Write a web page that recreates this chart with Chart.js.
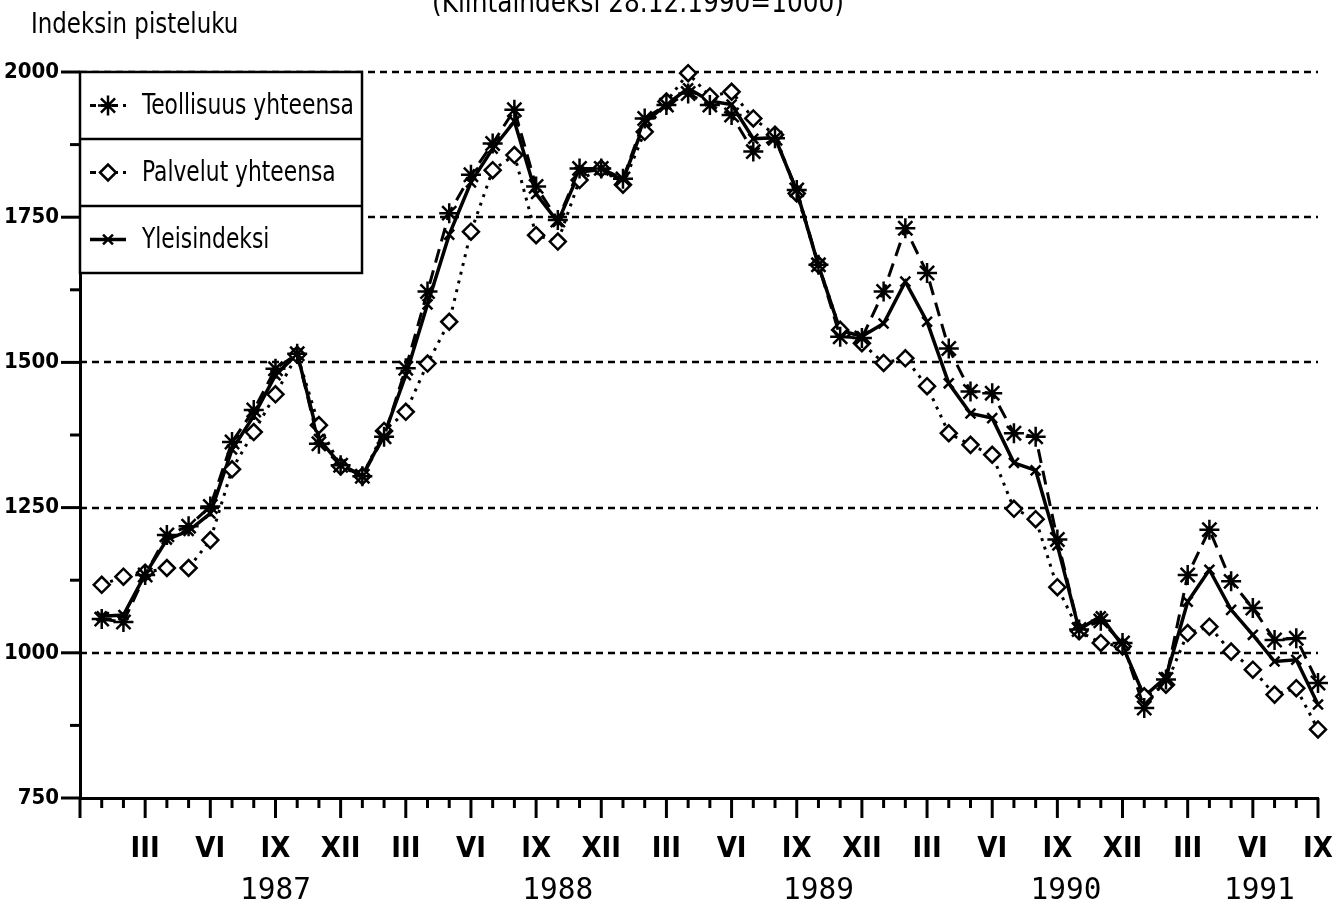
<!DOCTYPE html>
<html>
<head>
<meta charset="utf-8">
<script src="https://cdn.jsdelivr.net/npm/chart.js@4.4.1/dist/chart.umd.min.js"></script>
<style>
  html, body { margin: 0; padding: 0; background: #fff; }
  #wrap { width: 1343px; height: 906px; position: relative; }
</style>
</head>
<body>
<div id="wrap"><canvas id="c" width="1343" height="906"></canvas></div>
<script>
// ---- data (monthly, Jan 1987 .. Sep 1991) ----
const seriesNames = ['Teollisuus yhteensa', 'Palvelut yhteensa', 'Yleisindeksi'];
const teollisuus = [
  1058, 1053, 1134, 1203, 1218, 1252, 1363, 1418, 1489, 1515, 1360, 1323,
  1304, 1372, 1490, 1622, 1757, 1823, 1877, 1935, 1803, 1745, 1834, 1834,
  1816, 1920, 1943, 1963, 1943, 1926, 1863, 1886, 1797, 1668, 1544, 1542,
  1622, 1731, 1654, 1524, 1450, 1447, 1378, 1372, 1195, 1040, 1055, 1017,
  905, 954, 1134, 1212, 1123, 1077, 1022, 1025, 948
];
const palvelut = [
  1117, 1131, 1138, 1146, 1146, 1194, 1316, 1380, 1445, 1513, 1392, 1321,
  1304, 1382, 1415, 1498, 1570, 1725, 1831, 1857, 1719, 1708, 1814, 1834,
  1806, 1897, 1949, 1998, 1958, 1966, 1920, 1892, 1791, 1668, 1556, 1533,
  1499, 1507, 1459, 1378, 1358, 1341, 1248, 1230, 1113, 1037, 1017, 1011,
  925, 945, 1034, 1045, 1002, 971, 928, 939, 868
];
const yleisindeksi = [
  1063, 1065, 1135, 1195, 1210, 1240, 1350, 1408, 1478, 1515, 1368, 1324,
  1305, 1375, 1478, 1600, 1720, 1810, 1868, 1915, 1790, 1742, 1828, 1832,
  1814, 1913, 1944, 1972, 1950, 1944, 1885, 1887, 1795, 1667, 1555, 1545,
  1567, 1639, 1570, 1464, 1412, 1404, 1327, 1314, 1185, 1040, 1063, 1012,
  925, 958, 1088, 1143, 1074, 1031, 985, 988, 911
];
const quarterNumerals = ['III', 'VI', 'IX', 'XII'];
const years = ['1987', '1988', '1989', '1990', '1991'];
const yearLabelMonth = [9, 22, 34, 45.4, 54.3];
const gridValues = [1000, 1250, 1500, 1750, 2000];
const yTickLabels = [750, 1000, 1250, 1500, 1750, 2000];
const yAxisTitle = 'Indeksin pisteluku';
const chartTitle = '(Kiintaindeksi 28.12.1990=1000)';

const NARROW = "'DejaVu Sans Condensed', 'Liberation Sans Narrow', sans-serif";
const MONO = "'DejaVu Sans Mono', 'Liberation Mono', monospace";

const toPoints = arr => arr.map((v, i) => ({ x: i + 1, y: v }));

function scaledText(ctx, text, x, y, sx) {
  ctx.save();
  ctx.translate(x, y);
  ctx.scale(sx, 1);
  ctx.fillText(text, 0, 0);
  ctx.restore();
}

const decor = {
  id: 'decor',
  beforeDatasetsDraw(chart) {
    const { ctx, chartArea: a, scales: { y } } = chart;
    ctx.save();
    ctx.strokeStyle = '#000';
    ctx.lineWidth = 2.5;
    ctx.setLineDash([7, 5]);
    gridValues.forEach(v => {
      const py = Math.round(y.getPixelForValue(v));
      ctx.beginPath();
      ctx.moveTo(a.left, py);
      ctx.lineTo(a.right, py);
      ctx.stroke();
    });
    ctx.restore();
  },
  afterDraw(chart) {
    const { ctx, chartArea: a, scales: { x, y } } = chart;
    ctx.save();
    ctx.strokeStyle = '#000';
    ctx.setLineDash([]);
    // x ticks
    ctx.lineWidth = 3;
    for (let m = x.min; m <= x.max; m++) {
      const px = x.getPixelForValue(m);
      const len = (m % 3 === 0) ? 20 : 10;
      ctx.beginPath();
      ctx.moveTo(px, a.bottom);
      ctx.lineTo(px, a.bottom + len);
      ctx.stroke();
    }
    // y ticks
    for (let v = y.min; v <= y.max; v += 125) {
      const py = y.getPixelForValue(v);
      const len = (v % 250 === 0) ? 19 : 10;
      ctx.beginPath();
      ctx.moveTo(a.left, py);
      ctx.lineTo(a.left - len, py);
      ctx.stroke();
    }
    // year labels
    ctx.fillStyle = '#000';
    ctx.font = "31px " + MONO;
    ctx.textAlign = 'center';
    ctx.textBaseline = 'alphabetic';
    years.forEach((yr, i) => {
      scaledText(ctx, yr, x.getPixelForValue(yearLabelMonth[i]), 899, 0.95);
    });
    // y axis title
    ctx.textAlign = 'left';
    ctx.font = "28px " + NARROW;
    scaledText(ctx, yAxisTitle, 31, 33, 0.91);
    // chart title (cut off at top)
    ctx.textAlign = 'center';
    ctx.font = "30px " + NARROW;
    scaledText(ctx, chartTitle, 638, 12, 0.92);

    // legend box
    const lx = a.left, lw = 282, top = y.getPixelForValue(2000);
    const rowH = 67;
    ctx.fillStyle = '#fff';
    ctx.fillRect(lx, top, lw, rowH * 3);
    ctx.lineWidth = 2.5;
    ctx.strokeRect(lx, top, lw, rowH * 3);
    for (let r = 1; r < 3; r++) {
      ctx.beginPath();
      ctx.moveTo(lx, top + rowH * r);
      ctx.lineTo(lx + lw, top + rowH * r);
      ctx.stroke();
    }
    chart.data.datasets.forEach((ds, i) => {
      const cy = top + rowH * i + rowH / 2;
      ctx.save();
      ctx.strokeStyle = '#000';
      ctx.lineWidth = ds.borderWidth;
      ctx.setLineDash(i === 2 ? [] : [6, 5]);
      ctx.beginPath();
      ctx.moveTo(lx + 10, cy);
      ctx.lineTo(lx + 46, cy);
      ctx.stroke();
      ctx.setLineDash([]);
      ctx.fillStyle = '#fff';
      ctx.lineWidth = ds.pointBorderWidth;
      Chart.helpers.drawPoint(ctx, {
        pointStyle: ds.pointStyle, radius: ds.pointRadius, rotation: 0,
        borderWidth: ds.pointBorderWidth
      }, lx + 28, cy);
      ctx.restore();
      ctx.fillStyle = '#000';
      ctx.font = "28px " + NARROW;
      ctx.textAlign = 'left';
      ctx.textBaseline = 'middle';
      scaledText(ctx, ds.label, lx + 62, cy + 1, 0.865);
    });
    ctx.restore();
  }
};

new Chart(document.getElementById('c'), {
  type: 'line',
  data: {
    datasets: [
      {
        label: seriesNames[0], data: toPoints(teollisuus),
        borderColor: '#000', borderWidth: 3, borderDash: [14, 8],
        pointStyle: 'star', pointRadius: 10, pointBorderWidth: 2.5,
        pointBorderColor: '#000', pointBackgroundColor: '#fff',
        tension: 0, clip: false
      },
      {
        label: seriesNames[1], data: toPoints(palvelut),
        borderColor: '#000', borderWidth: 3, borderDash: [3, 6],
        pointStyle: 'rectRot', pointRadius: 8, pointBorderWidth: 2.5,
        pointBorderColor: '#000', pointBackgroundColor: '#fff',
        tension: 0, clip: false
      },
      {
        label: seriesNames[2], data: toPoints(yleisindeksi),
        borderColor: '#000', borderWidth: 3.5,
        pointStyle: 'crossRot', pointRadius: 7, pointBorderWidth: 2.5,
        pointBorderColor: '#000', pointBackgroundColor: '#fff',
        tension: 0, clip: false
      }
    ]
  },
  options: {
    responsive: false,
    animation: false,
    devicePixelRatio: 1,
    layout: { padding: { top: 72, right: 25, left: 0, bottom: 0 } },
    plugins: { legend: { display: false }, tooltip: { enabled: false }, title: { display: false } },
    scales: {
      x: {
        type: 'linear', min: 0, max: 57,
        afterFit(s) { s.height = 108; s.paddingLeft = 0; s.paddingRight = 0; },
        grid: { display: false, drawTicks: false },
        border: { display: true, width: 3, color: '#000' },
        ticks: {
          stepSize: 1, autoSkip: false, maxRotation: 0, minRotation: 0,
          padding: 34, color: '#000',
          font: { family: NARROW, size: 29, weight: 'bold' },
          callback: v => (v > 0 && v % 3 === 0) ? quarterNumerals[(v / 3 - 1) % 4] : ''
        }
      },
      y: {
        type: 'linear', min: 750, max: 2000,
        afterFit(s) { s.width = 80; s.paddingTop = 0; s.paddingBottom = 0; },
        grid: { display: false, drawTicks: false },
        border: { display: true, width: 3, color: '#000' },
        ticks: {
          stepSize: 125, autoSkip: false, padding: 21, color: '#000',
          font: { family: NARROW, size: 22, weight: 'bold' },
          callback: v => yTickLabels.includes(v) ? String(v) : ''
        }
      }
    }
  },
  plugins: [decor]
});
</script>
</body>
</html>
